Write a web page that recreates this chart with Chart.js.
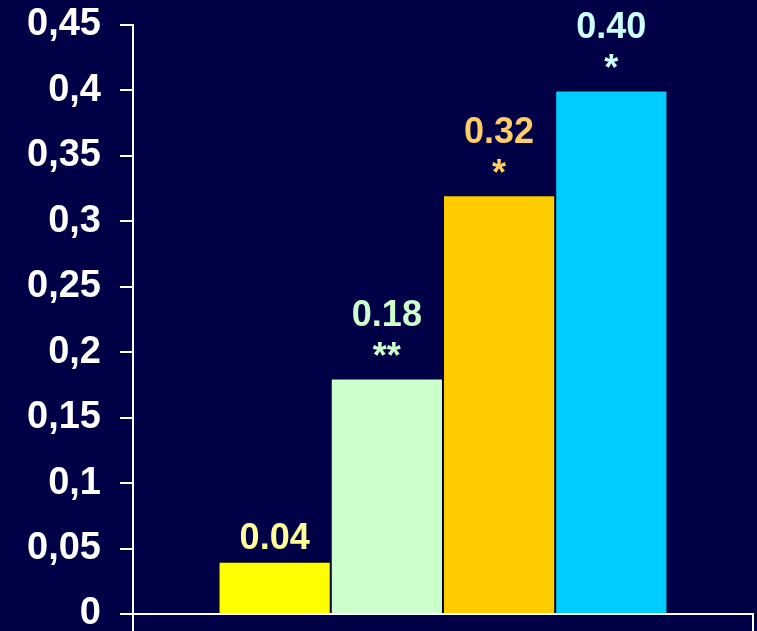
<!DOCTYPE html>
<html>
<head>
<meta charset="utf-8">
<script src="https://cdn.jsdelivr.net/npm/chart.js@4/dist/chart.umd.min.js"></script>
<style>
  html, body { margin: 0; padding: 0; background: #000046; }
  #wrap { width: 757px; height: 631px; }
</style>
</head>
<body>
<div id="wrap"><canvas id="chart"></canvas></div>
<script>
// values
const categories = [""];
const seriesValues = [0.04, 0.18, 0.32, 0.40];
const valueLabels = ["0.04", "0.18", "0.32", "0.40"];
const starLabels = ["", "**", "*", "*"];
const barColors = ["#ffff00", "#ccffcc", "#ffcc00", "#00ccff"];
const labelColors = ["#ffff99", "#ccffcc", "#ffcc66", "#ccffff"];
const yTicks = [0, 0.05, 0.1, 0.15, 0.2, 0.25, 0.3, 0.35, 0.4, 0.45];

const FONT = "'Liberation Sans', Arial, sans-serif";

// draws the value + asterisks above each bar
const barLabels = {
  id: "barLabels",
  afterDatasetsDraw(chart) {
    const ctx = chart.ctx;
    ctx.save();
    ctx.textAlign = "center";
    ctx.textBaseline = "middle";
    ctx.font = "bold 36px " + FONT;
    chart.data.datasets.forEach((ds, i) => {
      const bar = chart.getDatasetMeta(i).data[0];
      if (!bar) return;
      ctx.fillStyle = labelColors[i];
      const hasStar = starLabels[i] !== "";
      ctx.fillText(valueLabels[i], bar.x, bar.y - (hasStar ? 62 : 23));
      if (hasStar) ctx.fillText(starLabels[i], bar.x, bar.y - 20);
    });
    ctx.restore();
  }
};

const ctx = document.getElementById("chart");
new Chart(ctx, {
  type: "bar",
  data: {
    labels: categories,
    datasets: seriesValues.map((v, i) => ({
      data: [v],
      backgroundColor: barColors[i],
      borderColor: "#000000",
      borderWidth: 1,
      barPercentage: 1,
      categoryPercentage: 0.724
    }))
  },
  options: {
    responsive: true,
    maintainAspectRatio: false,
    animation: false,
    layout: { padding: { left: 8, right: 4, top: 25, bottom: 0 } },
    plugins: {
      legend: { display: false },
      tooltip: { enabled: false }
    },
    scales: {
      x: {
        ticks: { display: false },
        grid: {
          drawOnChartArea: false,
          color: "#ffffff",
          lineWidth: 2,
          tickLength: 17
        },
        border: { color: "#ffffff", width: 2 }
      },
      y: {
        min: 0,
        max: 0.45,
        afterBuildTicks: (axis) => {
          axis.ticks = yTicks.map((v) => ({ value: v }));
        },
        afterFit: (axis) => {
          // labels may overhang the plot, like the original
          axis.paddingTop = 0;
          axis.paddingBottom = 0;
        },
        ticks: {
          color: "#ffffff",
          padding: 19,
          font: { family: FONT, size: 38, weight: "bold" },
          callback: (v) => String(Number(v.toFixed(2))).replace(".", ",")
        },
        grid: {
          drawOnChartArea: false,
          color: "#ffffff",
          lineWidth: 2,
          tickLength: 13
        },
        border: { color: "#ffffff", width: 2 }
      }
    }
  },
  plugins: [barLabels]
});
</script>
</body>
</html>
